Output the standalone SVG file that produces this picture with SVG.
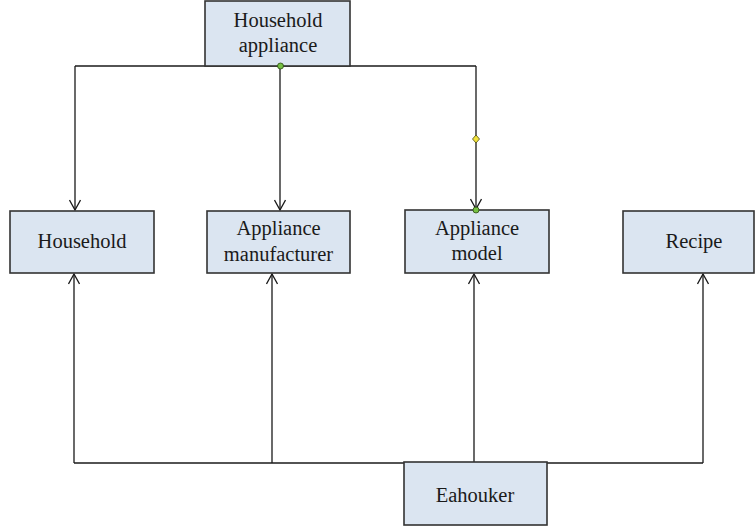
<svg xmlns="http://www.w3.org/2000/svg" width="755" height="529" viewBox="0 0 755 529">
<style>
.box{fill:#dbe5f1;stroke:#333;stroke-width:1.6}
.lbl{font-family:"Liberation Serif","Times New Roman",serif;font-size:20.5px;fill:#1a1a1a;text-anchor:middle}
.ln{fill:none;stroke:#1a1a1a;stroke-width:1.3}
</style>
<defs>
<marker id="arr" viewBox="0 0 12 12" refX="11" refY="6" markerWidth="12" markerHeight="12" markerUnits="userSpaceOnUse" orient="auto">
<path d="M1,0.5 L11,6 L1,11.5" fill="none" stroke="#1a1a1a" stroke-width="1.3"/>
</marker>
</defs>
<rect width="755" height="529" fill="#fff"/>
<g id="connectors">
<path class="ln" d="M75,66 H476"/>
<path class="ln" d="M75,66 V210" marker-end="url(#arr)"/>
<path class="ln" d="M280,66 V210" marker-end="url(#arr)"/>
<path class="ln" d="M476,66 V209" marker-end="url(#arr)"/>
<path class="ln" d="M74,463 H703"/>
<path class="ln" d="M74,463 V274" marker-end="url(#arr)"/>
<path class="ln" d="M272,463 V274" marker-end="url(#arr)"/>
<path class="ln" d="M474,463 V274" marker-end="url(#arr)"/>
<path class="ln" d="M703,463 V274" marker-end="url(#arr)"/>
</g>
<g id="household-appliance">
<rect class="box" x="205" y="1" width="145" height="65"/>
<text class="lbl" x="278" y="27">Household</text>
<text class="lbl" x="278" y="52">appliance</text>
</g>
<g id="household">
<rect class="box" x="10" y="211" width="144" height="62"/>
<text class="lbl" x="82" y="248">Household</text>
</g>
<g id="appliance-manufacturer">
<rect class="box" x="207" y="211" width="143" height="62"/>
<text class="lbl" x="278.5" y="235">Appliance</text>
<text class="lbl" x="278.5" y="261">manufacturer</text>
</g>
<g id="appliance-model">
<rect class="box" x="405" y="210" width="144" height="63"/>
<text class="lbl" x="477" y="235">Appliance</text>
<text class="lbl" x="477" y="260">model</text>
</g>
<g id="recipe">
<rect class="box" x="623" y="211" width="131" height="62"/>
<text class="lbl" x="694" y="248">Recipe</text>
</g>
<g id="eahouker">
<rect class="box" x="404" y="462" width="143" height="63"/>
<text class="lbl" x="475" y="502">Eahouker</text>
</g>
<g id="markers">
<circle cx="280.5" cy="66" r="3" fill="#76c043" stroke="#2a4a10" stroke-width="0.8"/>
<circle cx="476" cy="210" r="3" fill="#76c043" stroke="#2a4a10" stroke-width="0.8"/>
<path d="M476,135 L479.5,139 L476,143 L472.5,139 Z" fill="#f2e23a" stroke="#4a4a10" stroke-width="0.8"/>
</g>
</svg>
